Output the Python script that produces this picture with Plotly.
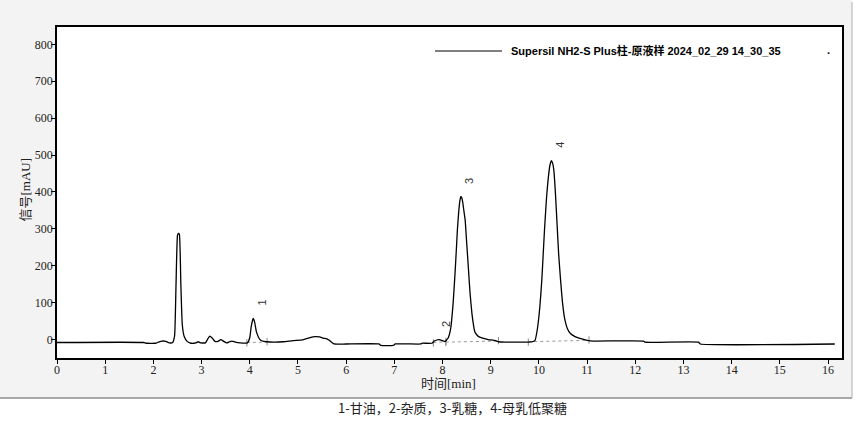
import plotly.graph_objects as go

# ---- chromatogram data ----
time_min = [0.00, 1.80, 1.85, 2.05, 2.12, 2.18, 2.26, 2.33, 2.40, 2.44, 2.47, 2.50, 2.52, 2.54,
            2.57, 2.60, 2.64, 2.70, 2.78, 2.88, 2.93, 2.98, 3.08, 3.13, 3.17, 3.22, 3.28, 3.34,
            3.40, 3.46, 3.52, 3.58, 3.63, 3.70, 3.80, 3.95, 4.00, 4.03, 4.07, 4.10, 4.14, 4.20,
            4.26, 4.35, 4.50, 4.70, 4.90, 5.10, 5.25, 5.35, 5.45, 5.52, 5.60, 5.65, 5.75, 6.00,
            6.68, 6.72, 6.98, 7.02, 7.55, 7.58, 7.78, 7.83, 7.93, 8.00, 8.06, 8.12, 8.17, 8.22,
            8.26, 8.29, 8.31, 8.34, 8.36, 8.38, 8.40, 8.42, 8.44, 8.47, 8.50, 8.54, 8.57, 8.61,
            8.64, 8.67, 8.71, 8.75, 8.85, 8.95, 9.10, 9.16, 9.30,
            9.60, 9.85, 9.92, 9.97, 10.02, 10.06, 10.09, 10.12, 10.16, 10.195, 10.23, 10.26,
            10.285, 10.31, 10.345, 10.38, 10.41, 10.45, 10.49, 10.54, 10.59,
            10.65, 10.75, 10.85, 11.00, 11.13, 12.17, 12.20, 13.31, 13.35, 16.14]
signal_mau = [-8, -8, -10, -10, -6, -4, -5, -9, -8, 10, 150, 282, 288, 285,
              150, 40, 8, -5, -10, -9, -6, -9, -9, 2, 9, 4, -5, -5,
              0, -5, -9, -6, -4, -7, -9, -9, 5, 35, 57, 48, 20, 2,
              -4, -6, -7, -6, -3, -1, 5, 8, 7, 4, 2, -2, -12, -12,
              -12, -16, -16, -12, -12, -10, -10, -4, 0, -3, -5, 5, 30, 98,
              180, 251, 300, 352, 376, 387, 384, 372, 352, 324, 265, 188, 128, 71,
              42, 21, 13, 8, 3, 0, -3, -6, -7,
              -7, -6, -2, 30, 89, 160, 233, 305, 387, 438, 473, 485,
              478, 459, 392, 306, 232, 161, 100, 53, 30,
              17, 8, 3, -2, -4, -4, -7, -7, -12, -12]

# integration baselines (start time, end time, start level, end level)
base_t0 = [3.94, 7.81, 8.07, 9.78]
base_t1 = [4.36, 8.07, 9.16, 11.04]
base_y0 = [-8, -8, -7, -6]
base_y1 = [-7, -6, -4, -2]

# peak labels
peak_labels = ["1", "2", "3", "4"]
peak_label_t = [4.25, 8.07, 8.55, 10.43]
peak_label_y = [100, 42, 430, 527]

x_ticks = list(range(0, 17))
y_ticks = list(range(0, 900, 100))

legend_text = "Supersil NH2-S Plus柱-原液样 2024_02_29 14_30_35"
caption_text = "1-甘油，2-杂质，3-乳糖，4-母乳低聚糖"

W, H = 855, 442
L, R, T, B = 57, 13, 27, 84
pw, ph = W - L - R, H - T - B

SERIF = "Liberation Serif, DejaVu Serif, serif"


def px(xp):
    return (xp - L) / pw


def py(yp):
    return (H - B - yp) / ph


fig = go.Figure()

# baseline segments + end ticks
for t0, t1, y0, y1 in zip(base_t0, base_t1, base_y0, base_y1):
    fig.add_trace(go.Scatter(x=[t0, t1], y=[y0, y1], mode="lines",
                             line=dict(color="#9a9a9a", width=1, dash="dot"),
                             hoverinfo="skip", showlegend=False))
    fig.add_trace(go.Scatter(x=[t0, t0, None, t1, t1], y=[y0 - 11, y0 + 9, None, y1 - 9, y1 + 11],
                             mode="lines", line=dict(color="#8a8a8a", width=1),
                             hoverinfo="skip", showlegend=False))

fig.add_trace(go.Scatter(x=time_min, y=signal_mau, mode="lines",
                         line=dict(color="black", width=1.3, shape="spline", smoothing=0.4),
                         showlegend=False))

for lab, t, y in zip(peak_labels, peak_label_t, peak_label_y):
    fig.add_annotation(x=t, y=y, text=lab, showarrow=False, textangle=-90,
                       font=dict(family="Liberation Sans", size=11, color="#333333"))

# gray panel
fig.add_shape(type="rect", xref="paper", yref="paper", x0=px(0), x1=px(852), y0=py(398), y1=py(0),
              fillcolor="#f3f3f3", line=dict(width=0), layer="below")
fig.add_shape(type="line", xref="paper", yref="paper", x0=px(0), x1=px(852), y0=py(398), y1=py(398),
              line=dict(color="#8c8c8c", width=1.5))
fig.add_shape(type="line", xref="paper", yref="paper", x0=px(852), x1=px(852), y0=py(398), y1=py(2),
              line=dict(color="#b0b0b0", width=1))
# white plot area
fig.add_shape(type="rect", xref="paper", yref="paper", x0=0, x1=1, y0=0, y1=1,
              fillcolor="white", line=dict(width=0), layer="below")

# legend
fig.add_shape(type="line", xref="paper", yref="paper", x0=px(435), x1=px(502), y0=py(51), y1=py(51),
              line=dict(color="black", width=1))
fig.add_annotation(xref="paper", yref="paper", x=px(509), y=py(51), xanchor="left", yanchor="middle",
                   text="<b>" + legend_text + "</b>", showarrow=False,
                   font=dict(family="Liberation Sans, Noto Sans CJK SC", size=11, color="black"))
fig.add_annotation(xref="paper", yref="paper", x=px(832), y=py(42), text="<b>.</b>", showarrow=False,
                   font=dict(family="Liberation Sans", size=11, color="black"))

# axis titles
fig.add_annotation(xref="paper", yref="paper", x=px(15), y=py(190), textangle=-90,
                   text="信号[mAU]", showarrow=False,
                   font=dict(family=SERIF + ", Noto Sans CJK SC", size=13, color="#222222"))
fig.add_annotation(xref="paper", yref="paper", x=px(448), y=py(374), yanchor="top",
                   text="时间[min]", showarrow=False,
                   font=dict(family=SERIF + ", Noto Sans CJK SC", size=13, color="#222222"))

# caption
fig.add_annotation(xref="paper", yref="paper", x=px(452), y=py(419),
                   text=caption_text, showarrow=False,
                   font=dict(family="Noto Sans CJK SC", size=13, color="#222222"))

fig.update_layout(
    width=W, height=H, margin=dict(l=L, r=R, t=T, b=B),
    paper_bgcolor="white", plot_bgcolor="rgba(0,0,0,0)", showlegend=False,
    xaxis=dict(range=[0, 16.29], tickvals=x_ticks, ticks="outside", ticklen=4, tickcolor="black",
               ticklabelstandoff=-4,
               showgrid=False, zeroline=False, showline=True, linecolor="black", linewidth=1.5,
               mirror=True, tickfont=dict(family=SERIF, size=12, color="#222222")),
    yaxis=dict(range=[-50, 847], tickvals=y_ticks, ticks="outside", ticklen=4, tickcolor="black",
               ticklabelstandoff=-4,
               showgrid=False, zeroline=False, showline=True, linecolor="black", linewidth=1.5,
               mirror=True, tickfont=dict(family=SERIF, size=12, color="#222222")),
)

fig.write_html("out.html", config={"displayModeBar": False},
               post_script="document.body.style.margin='0';")
